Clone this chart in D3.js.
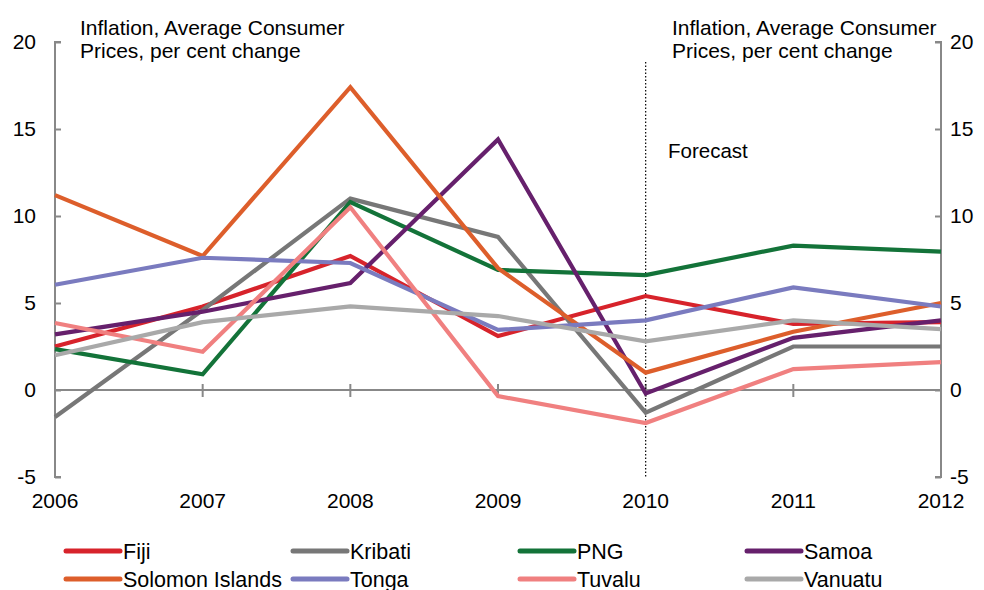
<!DOCTYPE html>
<html><head><meta charset="utf-8">
<script src="https://cdn.jsdelivr.net/npm/d3@7"></script>
<style>
body{margin:0;background:#fff;}
text{font-family:"Liberation Sans",Arial,sans-serif;fill:#000;}
</style></head>
<body><svg id="c" width="984" height="590"></svg>
<script>
const years = ["2006","2007","2008","2009","2010","2011","2012"];
const yTicks = [-5,0,5,10,15,20];
const fiji     = [2.5, 4.8, 7.7, 3.1, 5.4, 3.8, 3.9];
const kiribati = [-1.55, 4.6, 11.0, 8.8, -1.3, 2.5, 2.5];
const png      = [2.35, 0.9, 10.8, 6.9, 6.6, 8.3, 7.95];
const samoa    = [3.2, 4.5, 6.15, 14.4, -0.2, 3.0, 4.0];
const solomon  = [11.2, 7.7, 17.4, 7.0, 1.0, 3.35, 5.0];
const tonga    = [6.05, 7.6, 7.3, 3.45, 4.0, 5.9, 4.8];
const tuvalu   = [3.85, 2.2, 10.5, -0.35, -1.9, 1.2, 1.6];
const vanuatu  = [2.0, 3.9, 4.8, 4.25, 2.8, 4.0, 3.5];
const seriesNames = ["Fiji","Kribati","PNG","Samoa","Solomon Islands","Tonga","Tuvalu","Vanuatu"];
const seriesColors = ["#d7232b","#777777","#137339","#66206c","#dd5e2b","#7a7bbf","#f08080","#a9a9a9"];
const seriesValues = [fiji,kiribati,png,samoa,solomon,tonga,tuvalu,vanuatu];

const svg = d3.select("#c");
const L = 55, R = 941, T = 42, B = 477;
const x = d3.scalePoint().domain(years).range([L,R]);
const y = d3.scaleLinear().domain([-5,20]).range([B,T]);
const axisCol = "#888888";

// zero line
svg.append("line").attr("x1",L).attr("x2",R).attr("y1",y(0)).attr("y2",y(0))
  .attr("stroke",axisCol).attr("stroke-width",2);
// category ticks on zero line
svg.append("g").selectAll("line").data(years.slice(1,-1)).join("line")
  .attr("x1",d=>x(d)).attr("x2",d=>x(d)).attr("y1",y(0)-6).attr("y2",y(0)+7)
  .attr("stroke",axisCol).attr("stroke-width",2);

// left axis
const la = svg.append("g").attr("transform",`translate(${L},0)`)
  .call(d3.axisRight(y).tickValues(yTicks).tickSize(6).tickFormat(""));
la.select(".domain").attr("stroke",axisCol).attr("stroke-width",2).attr("d",`M6,${T}H0V${B}H6`);
la.selectAll(".tick line").attr("stroke",axisCol).attr("stroke-width",2);
// right axis
const ra = svg.append("g").attr("transform",`translate(${R},0)`)
  .call(d3.axisLeft(y).tickValues(yTicks).tickSize(6).tickFormat(""));
ra.select(".domain").attr("stroke",axisCol).attr("stroke-width",2).attr("d",`M-6,${T}H0V${B}H-6`);
ra.selectAll(".tick line").attr("stroke",axisCol).attr("stroke-width",2);

// y tick labels
svg.append("g").selectAll("text").data(yTicks).join("text")
  .attr("x",36).attr("y",d=>y(d)+7).attr("text-anchor","end").attr("font-size",21).text(d=>d);
svg.append("g").selectAll("text").data(yTicks).join("text")
  .attr("x",950).attr("y",d=>y(d)+7).attr("text-anchor","start").attr("font-size",21).text(d=>d);

// x labels
svg.append("g").selectAll("text").data(years).join("text")
  .attr("x",d=>x(d)).attr("y",508).attr("text-anchor","middle").attr("font-size",21).text(d=>d);

// forecast line
svg.append("line").attr("x1",x("2010")).attr("x2",x("2010")).attr("y1",62).attr("y2",B)
  .attr("stroke","#000").attr("stroke-width",1.2).attr("stroke-dasharray","1.5,2");
svg.append("text").attr("x",668).attr("y",158).attr("font-size",20.5).text("Forecast");

// titles
const t1 = svg.append("text").attr("font-size",21);
t1.append("tspan").attr("x",80).attr("y",35).text("Inflation, Average Consumer");
t1.append("tspan").attr("x",80).attr("y",58).text("Prices, per cent change");
const t2 = svg.append("text").attr("font-size",21);
t2.append("tspan").attr("x",672).attr("y",35).text("Inflation, Average Consumer");
t2.append("tspan").attr("x",672).attr("y",58).text("Prices, per cent change");

// lines
const line = d3.line().x((d,i)=>x(years[i])).y(d=>y(d));
svg.append("g").selectAll("path").data(seriesValues).join("path")
  .attr("d",d=>line(d)).attr("fill","none")
  .attr("stroke",(d,i)=>seriesColors[i]).attr("stroke-width",4.2)
  .attr("stroke-linejoin","miter");

// legend
const lg = svg.append("g").selectAll("g").data(seriesNames).join("g")
  .attr("transform",(d,i)=>`translate(${66 + (i%4)*227},${i<4?551:579})`);
lg.append("line").attr("x1",0).attr("x2",54).attr("y1",0).attr("y2",0)
  .attr("stroke",(d,i)=>seriesColors[i]).attr("stroke-width",5).attr("stroke-linecap","round");
lg.append("text").attr("x",57).attr("y",8).attr("font-size",21.5).text(d=>d);
</script></body></html>
